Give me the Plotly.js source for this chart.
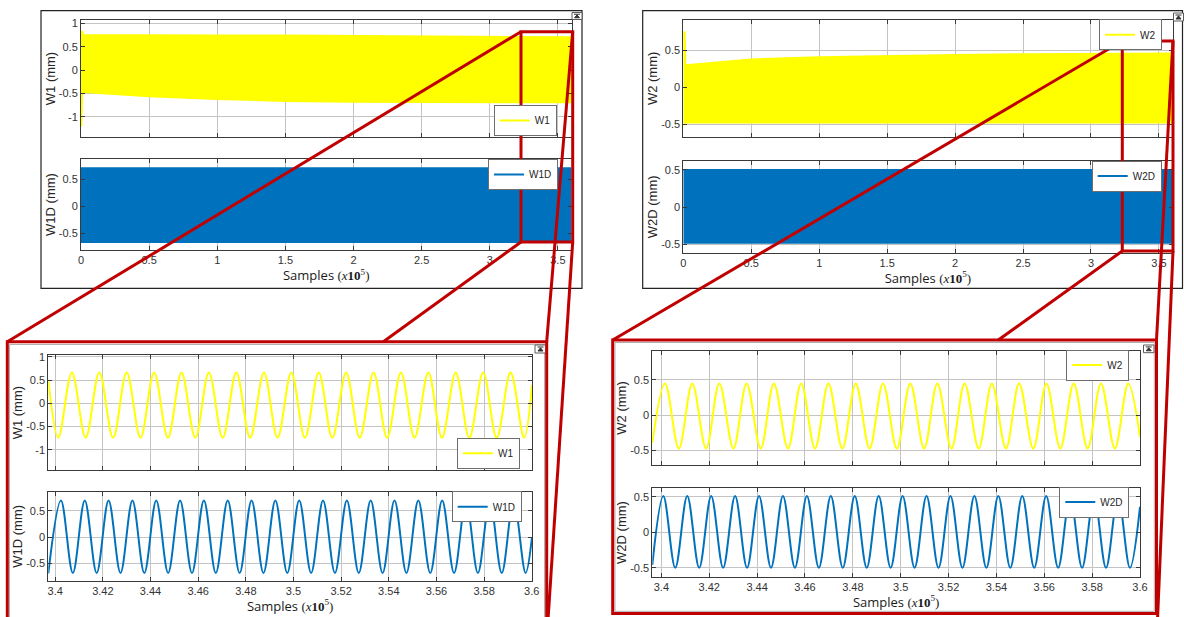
<!DOCTYPE html>
<html>
<head>
<meta charset="utf-8">
<script src="https://cdn.plot.ly/plotly-3.0.1.min.js"></script>
<style>
  html, body { margin: 0; padding: 0; background: #ffffff; }
  #chart { width: 1184px; height: 617px; }
</style>
</head>
<body>
<div id="chart"></div>
<script>
// ---------------- DATA ----------------
// Overview panels: envelope of the dense oscillation (x in samples x1e5)
const w1BandX     = [0, 0.01, 0.015, 0.5, 1.0, 1.5, 2.0, 2.5, 3.0, 3.6];
const w1BandUpper = [0.82, 0.82, 0.75, 0.74, 0.74, 0.74, 0.73, 0.73, 0.71, 0.70];
const w1BandLower = [-1.20, -1.20, -0.49, -0.58, -0.64, -0.68, -0.70, -0.71, -0.71, -0.71];

const w1dBandX     = [0, 3.6];
const w1dBandUpper = [0.71, 0.71];
const w1dBandLower = [-0.68, -0.68];

const w2BandX     = [0, 0.01, 0.015, 0.5, 1.0, 1.5, 2.0, 2.5, 3.0, 3.6];
const w2BandUpper = [0.75, 0.75, 0.30, 0.38, 0.41, 0.43, 0.44, 0.45, 0.45, 0.46];
const w2BandLower = [-0.52, -0.52, -0.49, -0.49, -0.49, -0.49, -0.49, -0.49, -0.49, -0.49];

const w2dBandX     = [0, 3.6];
const w2dBandUpper = [0.50, 0.50];
const w2dBandLower = [-0.49, -0.49];

// Zoomed panels: turning points (troughs / peaks) of each signal, 3.4 .. 3.6 x1e5
const w1ZoomX = [3.3971, 3.4013, 3.4070, 3.4128, 3.4185, 3.4243, 3.4300, 3.4358, 3.4415, 3.4473,
                 3.4530, 3.4588, 3.4645, 3.4703, 3.4760, 3.4818, 3.4876, 3.4933, 3.4991, 3.5048,
                 3.5106, 3.5163, 3.5221, 3.5278, 3.5336, 3.5393, 3.5451, 3.5508, 3.5566, 3.5623,
                 3.5681, 3.5738, 3.5796, 3.5853, 3.5911, 3.5968, 3.6001];
const w1ZoomY = [0.50, -0.74, 0.665, -0.74, 0.665, -0.74, 0.665, -0.74, 0.665, -0.74,
                 0.665, -0.74, 0.665, -0.74, 0.665, -0.74, 0.665, -0.74, 0.665, -0.74,
                 0.665, -0.74, 0.665, -0.74, 0.665, -0.74, 0.665, -0.74, 0.665, -0.74,
                 0.665, -0.74, 0.665, -0.74, 0.665, -0.74, 0.40];

const w1dZoomX = [3.3971, 3.4024, 3.4074, 3.4124, 3.4174, 3.4224, 3.4274, 3.4324, 3.4374, 3.4424,
                  3.4474, 3.4524, 3.4574, 3.4624, 3.4674, 3.4724, 3.4774, 3.4824, 3.4874, 3.4924,
                  3.4974, 3.5024, 3.5074, 3.5124, 3.5174, 3.5224, 3.5274, 3.5324, 3.5374, 3.5424,
                  3.5474, 3.5524, 3.5574, 3.5624, 3.5674, 3.5724, 3.5774, 3.5824, 3.5874, 3.5924,
                  3.5974, 3.6001];
const w1dZoomY = [-0.70, 0.70, -0.69, 0.70, -0.69, 0.70, -0.69, 0.70, -0.69, 0.70,
                  -0.69, 0.70, -0.69, 0.70, -0.69, 0.70, -0.69, 0.70, -0.69, 0.70,
                  -0.69, 0.70, -0.69, 0.70, -0.69, 0.70, -0.69, 0.70, -0.69, 0.70,
                  -0.69, 0.70, -0.69, 0.70, -0.69, 0.70, -0.69, 0.70, -0.69, 0.70,
                  -0.69, 0.00];

const w2ZoomX = [3.3962, 3.4015, 3.4073, 3.4129, 3.4187, 3.4242, 3.4301, 3.4356, 3.4415, 3.4470,
                 3.4529, 3.4584, 3.4642, 3.4698, 3.4756, 3.4812, 3.4870, 3.4926, 3.4984, 3.5040,
                 3.5098, 3.5153, 3.5212, 3.5267, 3.5326, 3.5381, 3.5440, 3.5495, 3.5554, 3.5609,
                 3.5667, 3.5723, 3.5781, 3.5837, 3.5895, 3.5951, 3.6000];
const w2ZoomY = [-0.40, 0.45, -0.475, 0.45, -0.475, 0.45, -0.475, 0.45, -0.475, 0.45,
                 -0.475, 0.45, -0.475, 0.45, -0.475, 0.45, -0.475, 0.45, -0.475, 0.45,
                 -0.475, 0.45, -0.475, 0.45, -0.475, 0.45, -0.475, 0.45, -0.475, 0.45,
                 -0.475, 0.45, -0.475, 0.45, -0.475, 0.45, -0.31];

const w2dZoomX = [3.3962, 3.4008, 3.4058, 3.4108, 3.4158, 3.4208, 3.4258, 3.4308, 3.4358, 3.4408,
                  3.4458, 3.4508, 3.4558, 3.4608, 3.4658, 3.4708, 3.4758, 3.4808, 3.4858, 3.4908,
                  3.4958, 3.5008, 3.5058, 3.5108, 3.5158, 3.5208, 3.5258, 3.5308, 3.5358, 3.5408,
                  3.5458, 3.5508, 3.5558, 3.5608, 3.5658, 3.5708, 3.5758, 3.5808, 3.5858, 3.5908,
                  3.5958, 3.6000];
const w2dZoomY = [-0.46, 0.51, -0.50, 0.51, -0.50, 0.51, -0.50, 0.51, -0.50, 0.51,
                  -0.50, 0.51, -0.50, 0.51, -0.50, 0.51, -0.50, 0.51, -0.50, 0.51,
                  -0.50, 0.51, -0.50, 0.51, -0.50, 0.51, -0.50, 0.51, -0.50, 0.51,
                  -0.50, 0.51, -0.50, 0.51, -0.50, 0.51, -0.50, 0.51, -0.50, 0.51,
                  -0.50, 0.36];

// Tick values / labels
const overviewTickVals = [0, 0.5, 1, 1.5, 2, 2.5, 3, 3.5];
const overviewTickText = ["0", "0.5", "1", "1.5", "2", "2.5", "3", "3.5"];
const zoomTickVals = [3.4, 3.42, 3.44, 3.46, 3.48, 3.5, 3.52, 3.54, 3.56, 3.58, 3.6];
const zoomTickText = ["3.4", "3.42", "3.44", "3.46", "3.48", "3.5", "3.52", "3.54", "3.56", "3.58", "3.6"];
const yTickValsWide = [-1, -0.5, 0, 0.5, 1];
const yTickTextWide = ["-1", "-0.5", "0", "0.5", "1"];
const yTickValsNarrow = [-0.5, 0, 0.5];
const yTickTextNarrow = ["-0.5", "0", "0.5"];

const seriesNames = ["W1", "W1D", "W2", "W2D"];
const yTitles = ["W1 (mm)", "W1D (mm)", "W2 (mm)", "W2D (mm)"];

// ---------------- STYLE / LAYOUT ----------------
const W = 1184, H = 617;
const PX = p => p / W;
const PY = p => 1 - p / H;
const YELLOW = "#FFFF00";
const BLUE = "#0072BD";
const RED = "#C00000";
const FONT = "Liberation Sans, Arial, sans-serif";
const xTitleText = 'Samples <span style="font-family:Liberation Serif, serif">(<i>x</i><b>10</b><sup>5</sup>)</span>';

function band(x, up, lo) {
  return { xs: x.concat(x.slice().reverse()), ys: up.concat(lo.slice().reverse()) };
}

const traces = [];
function addBand(x, up, lo, color, name, ax, legend) {
  const b = band(x, up, lo);
  traces.push({ type: "scatter", mode: "lines", x: b.xs, y: b.ys, fill: "toself", fillcolor: color,
    line: { width: 0, color: color }, showlegend: false, hoverinfo: "skip", xaxis: "x" + ax, yaxis: "y" + ax });
  traces.push({ type: "scatter", mode: "lines", x: x, y: up, name: name, line: { color: color, width: 2 },
    legend: legend, showlegend: true, xaxis: "x" + ax, yaxis: "y" + ax });
}
function addWave(x, y, color, name, ax, legend) {
  traces.push({ type: "scatter", mode: "lines", x: x, y: y, name: name,
    line: { color: color, width: 2, shape: "spline", smoothing: 1 },
    legend: legend, showlegend: true, xaxis: "x" + ax, yaxis: "y" + ax });
}

addBand(w1BandX, w1BandUpper, w1BandLower, YELLOW, seriesNames[0], "", "legend");
addBand(w1dBandX, w1dBandUpper, w1dBandLower, BLUE, seriesNames[1], "2", "legend2");
addBand(w2BandX, w2BandUpper, w2BandLower, YELLOW, seriesNames[2], "3", "legend3");
addBand(w2dBandX, w2dBandUpper, w2dBandLower, BLUE, seriesNames[3], "4", "legend4");
addWave(w1ZoomX, w1ZoomY, YELLOW, seriesNames[0], "5", "legend5");
addWave(w1dZoomX, w1dZoomY, BLUE, seriesNames[1], "6", "legend6");
addWave(w2ZoomX, w2ZoomY, YELLOW, seriesNames[2], "7", "legend7");
addWave(w2dZoomX, w2dZoomY, BLUE, seriesNames[3], "8", "legend8");
traces[0].xaxis = "x"; traces[0].yaxis = "y"; traces[1].xaxis = "x"; traces[1].yaxis = "y";

const axBase = {
  showline: true, linecolor: "#3a3a3a", linewidth: 1, mirror: "ticks",
  ticks: "inside", ticklen: 4, tickcolor: "#3a3a3a", tickwidth: 1,
  showgrid: true, gridcolor: "#c4c4c4", gridwidth: 1, zeroline: false,
  tickfont: { family: FONT, size: 11, color: "#333333" }, fixedrange: true
};
function xAxis(domPx, range, vals, text, showLabels, anchor) {
  const a = Object.assign({}, axBase, {
    domain: [PX(domPx[0]), PX(domPx[1])], range: range, anchor: anchor,
    tickmode: "array", tickvals: vals, ticktext: text, showticklabels: showLabels
  });
  if (showLabels) {
    a.title = { text: xTitleText, font: { family: "Open Sans, Noto Sans, sans-serif", size: 13, color: "#1a1a1a" }, standoff: 2 };
  }
  return a;
}
function yAxis(domPx, range, vals, text, title, anchor) {
  return Object.assign({}, axBase, {
    domain: [PY(domPx[1]), PY(domPx[0])], range: range, anchor: anchor,
    tickmode: "array", tickvals: vals, ticktext: text,
    title: { text: title, font: { family: FONT, size: 13, color: "#262626" }, standoff: 0 }
  });
}

const TLx = [81, 571.5], TRx = [683.3, 1172.5], BLx = [48.3, 532], BRx = [652.3, 1140];
const layout = {
  width: W, height: H, autosize: false,
  margin: { l: 0, r: 0, t: 0, b: 0, pad: 0 },
  paper_bgcolor: "#ffffff", plot_bgcolor: "#ffffff",
  showlegend: true,
  xaxis:  xAxis(TLx, [0, 3.6], overviewTickVals, overviewTickText, false, "y"),
  yaxis:  yAxis([20, 137], [-1.43, 1.07], yTickValsWide, yTickTextWide, yTitles[0], "x"),
  xaxis2: xAxis(TLx, [0, 3.6], overviewTickVals, overviewTickText, true, "y2"),
  yaxis2: yAxis([159, 250], [-0.81, 0.88], yTickValsNarrow, yTickTextNarrow, yTitles[1], "x2"),
  xaxis3: xAxis(TRx, [0, 3.6], overviewTickVals, overviewTickText, false, "y3"),
  yaxis3: yAxis([20, 136.7], [-0.67, 0.915], yTickValsNarrow, yTickTextNarrow, yTitles[2], "x3"),
  xaxis4: xAxis(TRx, [0, 3.6], overviewTickVals, overviewTickText, true, "y4"),
  yaxis4: yAxis([161, 252.7], [-0.61, 0.62], yTickValsNarrow, yTickTextNarrow, yTitles[3], "x4"),
  xaxis5: xAxis(BLx, [3.3971, 3.6001], zoomTickVals, zoomTickText, false, "y5"),
  yaxis5: yAxis([355, 470.3], [-1.44, 1.04], yTickValsWide, yTickTextWide, yTitles[0], "x5"),
  xaxis6: xAxis(BLx, [3.3971, 3.6001], zoomTickVals, zoomTickText, true, "y6"),
  yaxis6: yAxis([492, 580.7], [-0.84, 0.865], yTickValsNarrow, yTickTextNarrow, yTitles[1], "x6"),
  xaxis7: xAxis(BRx, [3.3962, 3.6], zoomTickVals, zoomTickText, false, "y7"),
  yaxis7: yAxis([350.7, 465.3], [-0.715, 0.915], yTickValsNarrow, yTickTextNarrow, yTitles[2], "x7"),
  xaxis8: xAxis(BRx, [3.3962, 3.6], zoomTickVals, zoomTickText, true, "y8"),
  yaxis8: yAxis([488.3, 576.7], [-0.625, 0.62], yTickValsNarrow, yTickTextNarrow, yTitles[3], "x8"),
  shapes: [],
  annotations: []
};

function legendAt(rightPx, centerPx) {
  return {
    x: PX(rightPx), xanchor: "right", y: PY(centerPx), yanchor: "middle",
    bgcolor: "#ffffff", bordercolor: "#6e6e6e", borderwidth: 1,
    font: { family: FONT, size: 10, color: "#262626" },
    itemwidth: 30, tracegroupgap: 0, itemclick: false, itemdoubleclick: false
  };
}
layout.legend  = legendAt(556.7, 120.5);
layout.legend2 = legendAt(558, 174.5);
layout.legend3 = legendAt(1162, 34.7);
layout.legend4 = legendAt(1161.7, 176);
layout.legend5 = legendAt(520, 453.3);
layout.legend6 = legendAt(521.7, 506.7);
layout.legend7 = legendAt(1129.3, 365);
layout.legend8 = legendAt(1129.3, 502);

// decorative frames, zoom boxes and connector lines (pixel positions -> paper)
function rectPx(x0, y0, x1, y1, color, width, fill) {
  return { type: "rect", xref: "paper", yref: "paper", layer: "above",
    x0: PX(x0), x1: PX(x1), y0: PY(y1), y1: PY(y0),
    line: { color: color, width: width }, fillcolor: fill || "rgba(0,0,0,0)" };
}
function linePx(x0, y0, x1, y1, color, width) {
  return { type: "line", xref: "paper", yref: "paper", layer: "above",
    x0: PX(x0), x1: PX(x1), y0: PY(y0), y1: PY(y1), line: { color: color, width: width } };
}
function iconPx(x0, y0, x1, y1) {
  const s = [rectPx(x0, y0, x1, y1, "#5a5a5a", 1, "#ffffff")];
  const cx = (x0 + x1) / 2, h = y1 - y0;
  const p = "M" + PX(cx - 2.5) + "," + PY(y0 + h * 0.75) + " L" + PX(cx + 2.5) + "," + PY(y0 + h * 0.75) +
            " L" + PX(cx) + "," + PY(y0 + h * 0.35) + " Z";
  s.push({ type: "path", xref: "paper", yref: "paper", layer: "above", path: p,
    line: { color: "#333333", width: 1 }, fillcolor: "#333333" });
  s.push(linePx(cx - 3, y0 + h * 0.25, cx + 3, y0 + h * 0.25, "#333333", 1));
  return s;
}

layout.shapes.push(rectPx(41, 10.7, 582, 288.3, "#222222", 1.2));
layout.shapes.push(rectPx(642.7, 10.7, 1182.5, 288.3, "#222222", 1.2));
layout.shapes.push(rectPx(9.5, 344.5, 544.5, 630, "#b0b0b0", 1));
layout.shapes.push(rectPx(615, 342.5, 1154.3, 611.3, "#b0b0b0", 1));
layout.shapes.push(...iconPx(572, 12.5, 582, 19.5));
layout.shapes.push(...iconPx(1173.5, 13, 1183.5, 21));
layout.shapes.push(...iconPx(535, 345, 546, 353));
layout.shapes.push(...iconPx(1143.5, 345, 1154, 352.7));

// left zoom box + connectors + bottom frame
layout.shapes.push(rectPx(521, 31.7, 572.7, 242, RED, 3));
layout.shapes.push(linePx(521, 31.7, 7.3, 341.7, RED, 3));
layout.shapes.push(linePx(521, 242, 383.3, 341.7, RED, 3));
layout.shapes.push(linePx(572.7, 31.7, 546.7, 341.7, RED, 3));
layout.shapes.push(linePx(572.7, 242, 548, 620, RED, 3));
layout.shapes.push(rectPx(7.3, 341.7, 546.7, 630, RED, 3));
// right zoom box + connectors + bottom frame
layout.shapes.push(rectPx(1122.3, 41, 1173, 251, RED, 3));
layout.shapes.push(linePx(1122.3, 41, 612.7, 340, RED, 3));
layout.shapes.push(linePx(1122.3, 251, 998.3, 340, RED, 3));
layout.shapes.push(linePx(1173, 41, 1156.5, 340, RED, 3));
layout.shapes.push(linePx(1173, 251, 1157.5, 620, RED, 3));
layout.shapes.push(rectPx(612.7, 340, 1156.5, 613.5, RED, 3));

Plotly.newPlot("chart", traces, layout, { staticPlot: true, displayModeBar: false });
</script>
</body>
</html>
